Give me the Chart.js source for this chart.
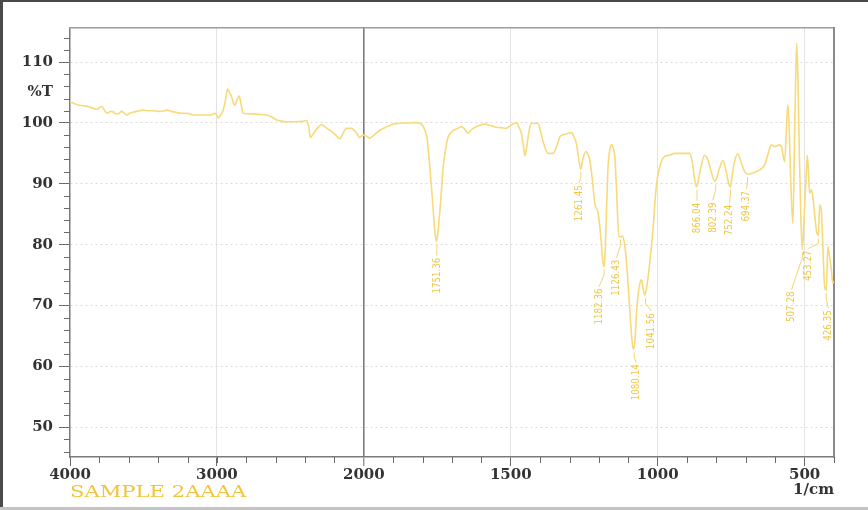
<!DOCTYPE html>
<html>
<head>
<meta charset="utf-8">
<script src="https://cdn.jsdelivr.net/npm/chart.js@4.4.1/dist/chart.umd.min.js"></script>
<style>
html,body{margin:0;padding:0;background:#fff;overflow:hidden}
#wrap{width:868px;height:510px;position:relative}
</style>
</head>
<body>
<div id="wrap"><canvas id="c" width="868" height="510"></canvas></div>
<script>
// ---------------- data ----------------
const wavenumbers = [
  4000,3950,3900,3864,3818,3784,3760,3750,3720,3705,3690,3671,3648,3630,3614,3595,3580,3546,3501,3470,
  3433,3400,3365,3342,3310,3274,3240,3206,3161,3120,3070,3030,3014,3000,2991,2975,2957,2940,2927,2915,
  2900,2888,2878,2863,2848,2835,2821,2776,2720,2662,2630,2594,2560,2526,2480,2435,2410,2390,2375,2363,
  2350,2333,2310,2288,2255,2220,2190,2163,2140,2118,2084,2055,2027,2005,1990,1980,1965,1946,1920,1900,
  1860,1821,1804,1793,1785,1776,1770,1764,1758,1753,1747,1741,1735,1730,1720,1713,1700,1685,1668,1656,
  1645,1636,1628,1605,1588,1570,1549,1530,1517,1500,1481,1472,1464,1457,1452,1446,1441,1435,1430,1407,
  1398,1390,1380,1373,1356,1345,1333,1320,1310,1293,1284,1277,1270,1262,1255,1245,1238,1231,1222,1214,
  1203,1194,1186,1182,1178,1174,1169,1162,1157,1151,1146,1140,1132,1126,1120,1109,1100,1092,1085,1082,
  1077,1072,1067,1061,1055,1050,1044,1038,1027,1016,1005,993,976,959,942,920,891,882,875,868,
  862,852,840,828,818,806,800,790,778,768,758,753,746,738,727,716,704,694,681,665,
  653,636,625,613,602,585,579,568,561,557,553,547,540,535,531,527,523,518,513,508,
  503,500,495,491,487,483,477,472,466,460,453,449,443,438,432,426,421,415,409,404,400
];
const transmittance = [
  103.5,103.0,102.8,102.6,102.25,102.7,101.9,101.6,101.9,101.8,101.5,101.5,101.9,101.6,101.3,101.6,101.7,101.9,102.1,102.0,
  102.0,101.9,101.95,102.1,101.9,101.7,101.6,101.6,101.3,101.3,101.3,101.4,101.6,101.2,100.8,101.3,102.1,104.0,105.6,105.0,
  104.3,103.3,102.9,103.8,104.4,103.0,101.6,101.5,101.4,101.3,101.0,100.5,100.3,100.2,100.2,100.25,100.3,100.4,99.3,97.6,
  98.0,98.6,99.3,99.7,99.2,98.6,98.0,97.4,98.4,99.1,99.1,98.5,97.6,98.0,97.8,97.5,98.0,98.8,99.4,99.8,
  100.0,100.05,99.8,98.9,97.5,93.0,89.5,85.7,82.0,80.5,82.5,85.7,89.5,92.8,96.2,97.7,98.6,99.0,99.4,98.9,
  98.3,98.8,99.1,99.6,99.8,99.6,99.3,99.2,99.1,99.6,100.05,99.3,98.3,96.2,94.6,96.0,97.7,99.3,99.95,99.95,
  98.5,96.9,95.5,95.0,95.0,96.0,97.7,98.1,98.2,98.4,97.6,96.7,94.5,92.4,94.0,95.3,94.9,93.9,90.5,86.8,
  85.2,81.5,77.0,76.4,80.0,86.0,92.8,95.8,96.4,95.8,94.5,89.0,81.3,81.3,81.4,78.6,73.0,67.0,63.2,62.8,
  64.5,68.8,71.7,73.5,74.2,73.0,71.7,72.8,77.0,82.5,89.5,92.8,94.5,94.7,95.0,95.0,95.0,93.5,91.0,89.5,
  90.5,93.0,94.7,93.8,92.0,90.4,90.8,92.5,93.8,92.2,90.0,89.5,91.5,93.8,94.9,93.5,92.0,91.6,91.7,92.0,
  92.3,93.1,94.8,96.4,96.1,96.4,96.1,93.6,100.0,103.0,100.0,90.0,83.5,95.0,106.0,113.1,108.0,95.0,85.0,79.2,
  83.0,86.3,91.0,94.7,92.0,88.5,89.0,87.9,85.0,82.4,81.5,86.5,85.4,80.0,73.1,72.5,79.7,78.0,75.9,73.7,74.0
];
const peakLabels = ['1751.36','1261.45','1182.36','1126.43','1080.14','1041.56','866.04','802.39','752.24','694.37','507.28','453.27','426.35'];
const peakWavenumbers = [1751.36,1261.45,1182.36,1126.43,1080.14,1041.56,866.04,802.39,752.24,694.37,507.28,453.27,426.35];
const peakTransmittance = [80.5,92.4,76.4,81.3,62.8,71.7,89.5,90.4,89.5,91.6,79.2,81.5,72.5];
const xTickLabels = [4000,3000,2000,1500,1000,500];
const yTickLabels = [50,60,70,80,90,100,110];
const yUnitLabel = '%T';
const yUnitAt = 105;
const xUnitLabel = '1/cm';
const sampleName = 'SAMPLE 2AAAA';

// ---------------- FTIR axis: 4000-2000 at half the scale of 2000-400 ----------------
const fold = w => (w <= 2000 ? w : 2000 + (w - 2000) / 2);
const unfold = u => (u <= 2000 ? u : 2000 + (u - 2000) * 2);
class FtirScale extends Chart.LinearScale {
  getPixelForValue(v) {
    if (v === null || v === undefined || isNaN(v)) return NaN;
    const a = fold(this.min), b = fold(this.max);
    return this.getPixelForDecimal((b - fold(v)) / (b - a));
  }
  getValueForPixel(p) {
    const a = fold(this.min), b = fold(this.max);
    return unfold(b - this.getDecimalForPixel(p) * (b - a));
  }
}
FtirScale.id = 'ftir';
FtirScale.defaults = Chart.LinearScale.defaults;
Chart.register(FtirScale);

const minorX = [];
for (let v = 3800; v > 2000; v -= 200) minorX.push(v);
for (let v = 1900; v >= 400; v -= 100) if (!xTickLabels.includes(v)) minorX.push(v);
const minorY = [];
for (let v = 46; v <= 114; v += 2) if (v % 10 !== 0) minorY.push(v);

const tickFont = {family: '"DejaVu Serif", "Liberation Serif", serif', size: 15, weight: 'bold'};
const axisGray = '#7a7a7a';

const framePlugin = {
  id: 'frame',
  beforeDraw(chart) {
    const {ctx, width, height} = chart;
    ctx.save();
    ctx.fillStyle = '#ffffff';
    ctx.fillRect(0, 0, width, height);
    ctx.fillStyle = '#4a4a4a';
    ctx.fillRect(0, 0, 3, height);
    ctx.fillRect(0, 0, width, 2);
    ctx.fillStyle = '#c4c4c4';
    ctx.fillRect(0, height - 3, width, 3);
    ctx.restore();
  },
  afterDraw(chart) {
    const {ctx, chartArea} = chart;
    ctx.save();
    ctx.font = '16px "DejaVu Serif", "Liberation Serif", serif';
    ctx.fillStyle = '#F2C33A';
    ctx.textBaseline = 'alphabetic';
    ctx.textAlign = 'left';
    ctx.translate(chartArea.left, 497);
    ctx.scale(1.32, 1);
    ctx.fillText(sampleName, 0, 0);
    ctx.restore();
  }
};

const minorTickPlugin = {
  id: 'minorTicks',
  afterDraw(chart, args, opts) {
    const {ctx, chartArea, scales} = chart;
    ctx.save();
    ctx.strokeStyle = opts.color;
    ctx.lineWidth = 1;
    ctx.beginPath();
    minorX.forEach(v => {
      const px = Math.round(scales.x.getPixelForValue(v)) + 0.5;
      ctx.moveTo(px, chartArea.bottom);
      ctx.lineTo(px, chartArea.bottom + opts.length);
    });
    minorY.forEach(v => {
      const py = Math.round(scales.y.getPixelForValue(v)) + 0.5;
      ctx.moveTo(chartArea.left, py);
      ctx.lineTo(chartArea.left - opts.length, py);
    });
    ctx.stroke();
    ctx.restore();
  }
};

const peakLabelPlugin = {
  id: 'peakLabels',
  afterDatasetsDraw(chart, args, opts) {
    const {ctx, chartArea} = chart;
    const xs = chart.scales.x, ys = chart.scales.y;
    ctx.save();
    ctx.beginPath();
    ctx.rect(chartArea.left, chartArea.top, chartArea.right - chartArea.left, chartArea.bottom - chartArea.top);
    ctx.clip();
    ctx.strokeStyle = opts.lineColor;
    ctx.fillStyle = opts.color;
    ctx.font = opts.font;
    ctx.lineWidth = 1;
    peakLabels.forEach((txt, i) => {
      const px = xs.getPixelForValue(peakWavenumbers[i]);
      const py = ys.getPixelForValue(peakTransmittance[i]);
      const n = opts.nudge[txt] || {};
      const dx = n.dx || 0, gap = n.gap || opts.gap;
      const lx = px + dx, ty = py + gap;
      ctx.beginPath();
      ctx.moveTo(px, py + 3);
      ctx.lineTo(px, py + Math.min(8, gap - 5));
      ctx.lineTo(lx, ty - 2);
      ctx.stroke();
      ctx.save();
      ctx.translate(lx, ty);
      ctx.rotate(-Math.PI / 2);
      ctx.scale(0.88, 1);
      ctx.textAlign = 'right';
      ctx.textBaseline = 'middle';
      ctx.fillText(txt, 0, 0);
      ctx.restore();
    });
    ctx.restore();
  }
};

new Chart(document.getElementById('c'), {
  type: 'line',
  data: {
    datasets: [{
      data: wavenumbers.map((w, i) => ({x: w, y: transmittance[i]})),
      borderColor: '#F7DA7A',
      borderWidth: 1.6,
      pointRadius: 0,
      cubicInterpolationMode: 'monotone',
      fill: false
    }]
  },
  options: {
    responsive: false,
    animation: false,
    events: [],
    layout: {padding: {left: 0, top: 28, right: 34, bottom: 0}},
    plugins: {
      legend: {display: false},
      tooltip: {enabled: false},
      minorTicks: {color: '#6a6a6a', length: 6},
      peakLabels: {
        color: '#EDC84A',
        lineColor: '#F2D572',
        font: '11px "Liberation Sans Narrow", "DejaVu Sans Condensed", "Arial Narrow", sans-serif',
        gap: 16,
        nudge: {
          '1261.45': {dx: -2},
          '1182.36': {dx: -5, gap: 22},
          '1126.43': {dx: -4, gap: 23},
          '1080.14': {dx: 2, gap: 15},
          '1041.56': {dx: 6, gap: 18},
          '802.39': {dx: -3, gap: 21},
          '752.24': {dx: -1, gap: 18},
          '694.37': {dx: -1, gap: 17},
          '507.28': {dx: -11, gap: 42},
          '453.27': {dx: -10, gap: 15},
          '426.35': {dx: 2, gap: 20}
        }
      }
    },
    scales: {
      x: {
        type: 'ftir',
        position: 'bottom',
        min: 400,
        max: 4000,
        afterBuildTicks: s => { s.ticks = xTickLabels.map(v => ({value: v})); },
        afterFit: s => { s.height = 53; },
        ticks: {
          autoSkip: false,
          maxRotation: 0,
          padding: 0,
          color: '#333333',
          font: tickFont,
          callback: v => String(v)
        },
        grid: {
          color: c => {
            const v = c.tick && c.tick.value;
            if (v === 2000) return '#7c7c7c';
            if (v === 4000) return 'rgba(0,0,0,0)';
            return '#e4e4e4';
          },
          lineWidth: c => (c.tick && c.tick.value === 2000 ? 1.6 : 1),
          tickColor: '#6a6a6a',
          tickWidth: 1,
          tickLength: 9
        },
        border: {color: axisGray, width: 1.5},
        title: {
          display: true,
          text: xUnitLabel,
          align: 'end',
          color: '#333333',
          font: tickFont,
          padding: {top: 0, bottom: 11}
        }
      },
      y: {
        type: 'linear',
        position: 'left',
        min: 45.1,
        max: 115.6,
        afterBuildTicks: s => { s.ticks = yTickLabels.concat([yUnitAt]).sort((a, b) => a - b).map(v => ({value: v})); },
        afterFit: s => { s.width = 70; },
        ticks: {
          autoSkip: false,
          padding: 6,
          color: '#333333',
          font: tickFont,
          callback: v => (v === yUnitAt ? yUnitLabel : String(v))
        },
        grid: {
          color: c => (c.tick && c.tick.value === yUnitAt ? 'rgba(0,0,0,0)' : '#dadada'),
          lineWidth: 1,
          tickColor: c => (c.tick && c.tick.value === yUnitAt ? 'rgba(0,0,0,0)' : '#6a6a6a'),
          tickWidth: 1,
          tickLength: 11,
          tickBorderDash: []
        },
        border: {color: axisGray, width: 1.5, dash: [2, 3]}
      },
      x2: {
        type: 'linear',
        position: 'top',
        display: true,
        afterFit: s => { s.height = 0; },
        ticks: {display: false},
        grid: {display: false, drawTicks: false},
        border: {color: '#9c9c9c', width: 1.5}
      },
      y2: {
        type: 'linear',
        position: 'right',
        display: true,
        afterFit: s => { s.width = 0; },
        ticks: {display: false},
        grid: {display: false, drawTicks: false},
        border: {color: '#8a8a8a', width: 2}
      }
    }
  },
  plugins: [framePlugin, minorTickPlugin, peakLabelPlugin]
});
</script>
</body>
</html>
